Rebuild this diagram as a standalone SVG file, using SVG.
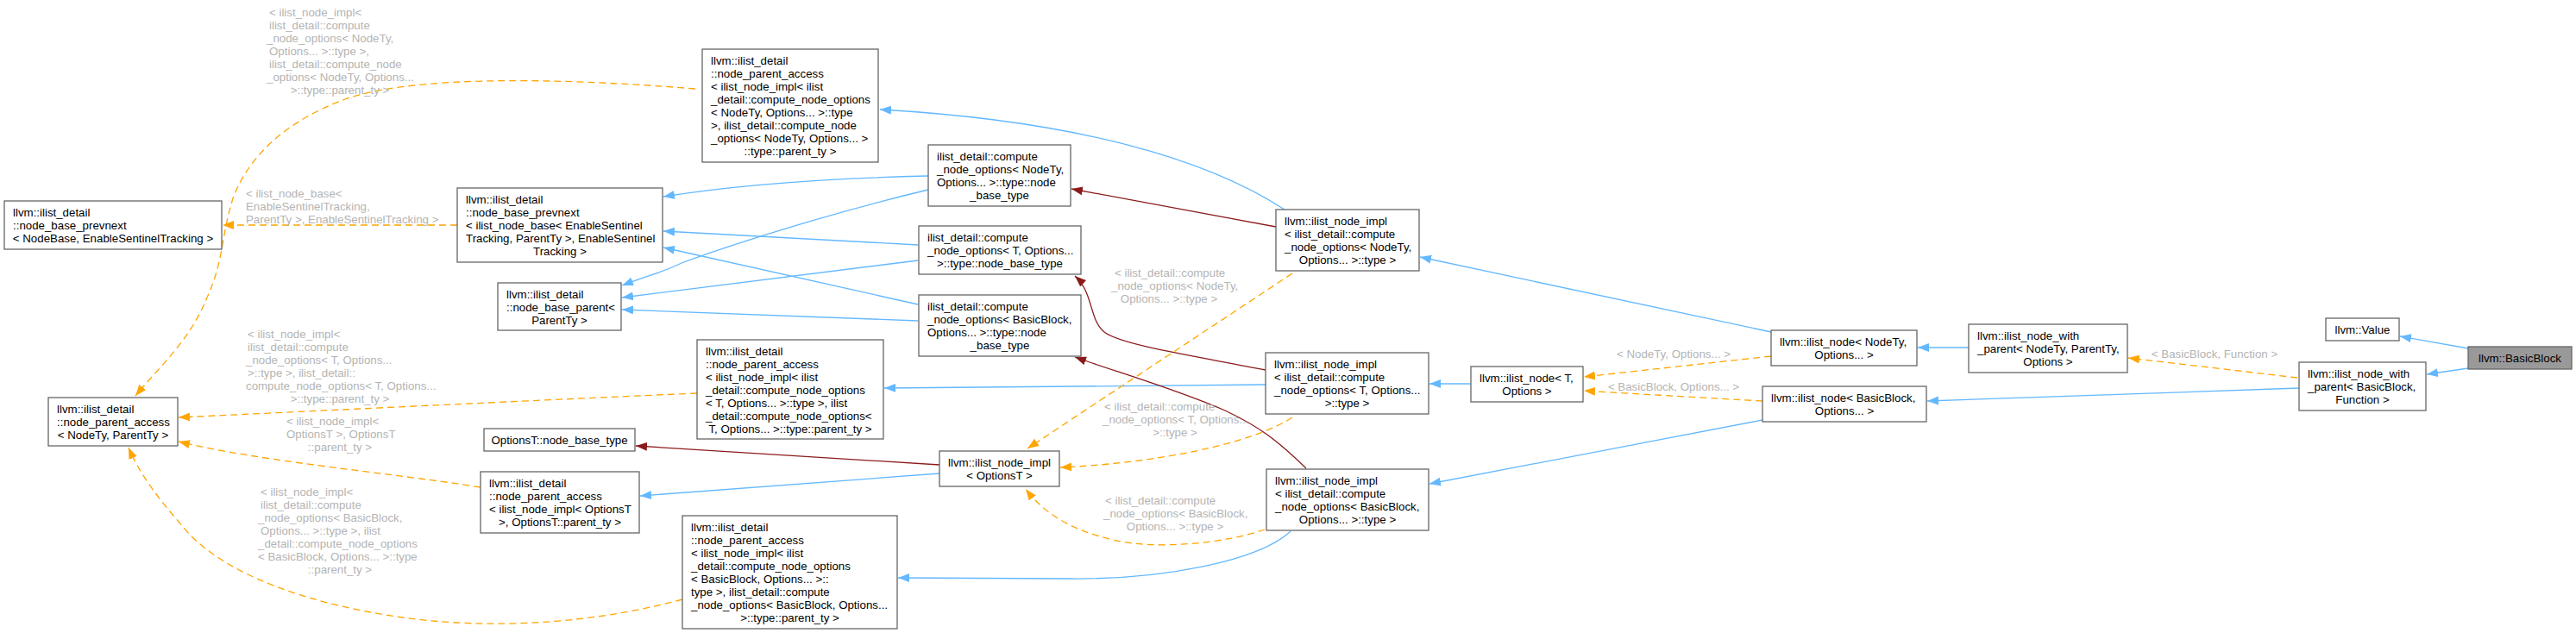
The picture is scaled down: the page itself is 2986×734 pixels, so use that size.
<svg xmlns="http://www.w3.org/2000/svg" width="2986" height="734" viewBox="0 0 2986 734">
<style>
.n rect{fill:#fff;stroke:#666;stroke-width:1.3}
.n text,.l text{font-family:"Liberation Sans",Arial,sans-serif;font-size:13.3px}
.n text{fill:#000}
.l text{fill:#b4b4b4}
.m{text-anchor:middle}
.e path{fill:none;stroke-width:1.3}
.b{stroke:#63b8ff}
.r{stroke:#8b1a1a}
.o{stroke:#ffa500;stroke-dasharray:8,5}
</style>
<defs>
<marker id="ab" markerUnits="userSpaceOnUse" markerWidth="14" markerHeight="11" refX="13" refY="5" orient="auto"><path d="M0,0L13,5L0,10z" fill="#63b8ff"/></marker>
<marker id="ar" markerUnits="userSpaceOnUse" markerWidth="14" markerHeight="11" refX="13" refY="5" orient="auto"><path d="M0,0L13,5L0,10z" fill="#8b1a1a"/></marker>
<marker id="ao" markerUnits="userSpaceOnUse" markerWidth="14" markerHeight="11" refX="13" refY="5" orient="auto"><path d="M0,0L13,5L0,10z" fill="#ffa500"/></marker>
</defs>
<rect width="2986" height="734" fill="#fff"/>
<g id="edges" class="e">
<path class="b" d="M2861,404L2782,390" marker-end="url(#ab)"/>
<path class="b" d="M2861,427L2813,434" marker-end="url(#ab)"/>
<path class="o" d="M2663,438L2467,415" marker-end="url(#ao)"/>
<path class="b" d="M2665,450L2234,465" marker-end="url(#ab)"/>
<path class="b" d="M2282,403L2223,403" marker-end="url(#ab)"/>
<path class="o" d="M2053,413L1836,437" marker-end="url(#ao)"/>
<path class="o" d="M2043,465C1990,462 1900,457 1836,453" marker-end="url(#ao)"/>
<path class="b" d="M2053,385L1646,298" marker-end="url(#ab)"/>
<path class="b" d="M1705,445L1657,445" marker-end="url(#ab)"/>
<path class="b" d="M2043,487L1657,561" marker-end="url(#ab)"/>
<path class="b" d="M1489,243C1400,185 1250,140 1020,127" marker-end="url(#ab)"/>
<path class="r" d="M1479,263L1242,219" marker-end="url(#ar)"/>
<path class="b" d="M1467,446L1025,450" marker-end="url(#ab)"/>
<path class="r" d="M1467,429C1380,412 1300,400 1280,385C1262,370 1268,340 1246,320" marker-end="url(#ar)"/>
<path class="r" d="M1514,543C1480,510 1460,495 1420,476C1360,450 1290,430 1246,414" marker-end="url(#ar)"/>
<path class="b" d="M1496,616C1460,650 1350,672 1240,671L1041,670" marker-end="url(#ab)"/>
<path class="o" d="M1498,317L1191,520" marker-end="url(#ao)"/>
<path class="o" d="M1498,484C1450,515 1340,537 1229,542" marker-end="url(#ao)"/>
<path class="o" d="M1466,614C1420,630 1340,638 1290,626C1240,614 1210,595 1189,567" marker-end="url(#ao)"/>
<path class="r" d="M1089,539L737,517" marker-end="url(#ar)"/>
<path class="b" d="M1089,549L742,575" marker-end="url(#ab)"/>
<path class="b" d="M1076,204C950,207 850,215 769,228" marker-end="url(#ab)"/>
<path class="b" d="M1076,220C950,250 830,290 790,305C770,315 750,320 721,331" marker-end="url(#ab)"/>
<path class="b" d="M1064,284L769,268" marker-end="url(#ab)"/>
<path class="b" d="M1064,302L721,345" marker-end="url(#ab)"/>
<path class="b" d="M1064,353L769,287" marker-end="url(#ab)"/>
<path class="b" d="M1064,372L721,359" marker-end="url(#ab)"/>
<path class="o" d="M530,261L258,261" marker-end="url(#ao)"/>
<path class="o" d="M806,103C730,97 500,80 400,115C320,145 285,190 270,230C255,280 260,300 240,345C220,395 185,425 157,459" marker-end="url(#ao)"/>
<path class="o" d="M808,456C600,465 400,475 207,484" marker-end="url(#ao)"/>
<path class="o" d="M557,565C450,548 300,535 207,512" marker-end="url(#ao)"/>
<path class="o" d="M791,695C680,725 560,730 460,715C360,700 270,670 220,620C185,580 163,552 149,519" marker-end="url(#ao)"/>
</g>
<g id="labels" class="l">
<text x="312" y="19">&lt; ilist_node_impl&lt;</text>
<text x="312" y="34">ilist_detail::compute</text>
<text x="309" y="49">_node_options&lt; NodeTy,</text>
<text x="312" y="64">Options... &gt;::type &gt;,</text>
<text x="312" y="79">ilist_detail::compute_node</text>
<text x="309" y="94">_options&lt; NodeTy, Options...</text>
<text x="394" y="109" class="m">&gt;::type::parent_ty &gt;</text>
<text x="285" y="229">&lt; ilist_node_base&lt;</text>
<text x="285" y="244">EnableSentinelTracking,</text>
<text x="285" y="259">ParentTy &gt;, EnableSentinelTracking &gt;</text>
<text x="287" y="392">&lt; ilist_node_impl&lt;</text>
<text x="287" y="407">ilist_detail::compute</text>
<text x="285" y="422">_node_options&lt; T, Options...</text>
<text x="287" y="437">&gt;::type &gt;, ilist_detail::</text>
<text x="285" y="452">compute_node_options&lt; T, Options...</text>
<text x="394" y="467" class="m">&gt;::type::parent_ty &gt;</text>
<text x="332" y="493">&lt; ilist_node_impl&lt;</text>
<text x="332" y="508">OptionsT &gt;, OptionsT</text>
<text x="394" y="523" class="m">::parent_ty &gt;</text>
<text x="302" y="575">&lt; ilist_node_impl&lt;</text>
<text x="302" y="590">ilist_detail::compute</text>
<text x="299" y="605">_node_options&lt; BasicBlock,</text>
<text x="302" y="620">Options... &gt;::type &gt;, ilist</text>
<text x="299" y="635">_detail::compute_node_options</text>
<text x="299" y="650">&lt; BasicBlock, Options... &gt;::type</text>
<text x="394" y="665" class="m">::parent_ty &gt;</text>
<text x="1292" y="321">&lt; ilist_detail::compute</text>
<text x="1288" y="336">_node_options&lt; NodeTy,</text>
<text x="1355" y="351" class="m">Options... &gt;::type &gt;</text>
<text x="1280" y="476">&lt; ilist_detail::compute</text>
<text x="1278" y="491">_node_options&lt; T, Options...</text>
<text x="1362" y="506" class="m">&gt;::type &gt;</text>
<text x="1281" y="585">&lt; ilist_detail::compute</text>
<text x="1279" y="600">_node_options&lt; BasicBlock,</text>
<text x="1362" y="615" class="m">Options... &gt;::type &gt;</text>
<text x="1940" y="415" class="m">&lt; NodeTy, Options... &gt;</text>
<text x="1940" y="453" class="m">&lt; BasicBlock, Options... &gt;</text>
<text x="2567" y="415" class="m">&lt; BasicBlock, Function &gt;</text>
</g>
<g id="n1" class="n"><rect x="2861" y="402" width="120" height="26" style="fill:#999"/><text x="2921" y="420" class="m">llvm::BasicBlock</text></g>
<g id="n2" class="n"><rect x="2696" y="369" width="85" height="26"/><text x="2738.5" y="387" class="m">llvm::Value</text></g>
<g id="n3" class="n"><rect x="2665" y="420" width="147" height="56"/><text x="2675" y="438">llvm::ilist_node_with</text><text x="2675" y="453">_parent&lt; BasicBlock,</text><text x="2738.5" y="468" class="m">Function &gt;</text></g>
<g id="n4" class="n"><rect x="2282" y="376" width="184" height="56"/><text x="2292" y="394">llvm::ilist_node_with</text><text x="2292" y="409">_parent&lt; NodeTy, ParentTy,</text><text x="2374" y="424" class="m">Options &gt;</text></g>
<g id="n5" class="n"><rect x="2053" y="383" width="169" height="41"/><text x="2063" y="401">llvm::ilist_node&lt; NodeTy,</text><text x="2137.5" y="416" class="m">Options... &gt;</text></g>
<g id="n6" class="n"><rect x="2043" y="448" width="190" height="41"/><text x="2053" y="466">llvm::ilist_node&lt; BasicBlock,</text><text x="2138" y="481" class="m">Options... &gt;</text></g>
<g id="n7" class="n"><rect x="1705" y="425" width="130" height="41"/><text x="1715" y="443">llvm::ilist_node&lt; T,</text><text x="1770" y="458" class="m">Options &gt;</text></g>
<g id="n8" class="n"><rect x="1479" y="243" width="166" height="71"/><text x="1489" y="261">llvm::ilist_node_impl</text><text x="1489" y="276">&lt; ilist_detail::compute</text><text x="1489" y="291">_node_options&lt; NodeTy,</text><text x="1562" y="306" class="m">Options... &gt;::type &gt;</text></g>
<g id="n9" class="n"><rect x="1467" y="409" width="189" height="71"/><text x="1477" y="427">llvm::ilist_node_impl</text><text x="1477" y="442">&lt; ilist_detail::compute</text><text x="1477" y="457">_node_options&lt; T, Options...</text><text x="1561.5" y="472" class="m">&gt;::type &gt;</text></g>
<g id="n10" class="n"><rect x="1468" y="544" width="188" height="71"/><text x="1478" y="562">llvm::ilist_node_impl</text><text x="1478" y="577">&lt; ilist_detail::compute</text><text x="1478" y="592">_node_options&lt; BasicBlock,</text><text x="1562" y="607" class="m">Options... &gt;::type &gt;</text></g>
<g id="n11" class="n"><rect x="1076" y="168" width="165" height="71"/><text x="1086" y="186">ilist_detail::compute</text><text x="1086" y="201">_node_options&lt; NodeTy,</text><text x="1086" y="216">Options... &gt;::type::node</text><text x="1158.5" y="231" class="m">_base_type</text></g>
<g id="n12" class="n"><rect x="1065" y="262" width="188" height="56"/><text x="1075" y="280">ilist_detail::compute</text><text x="1075" y="295">_node_options&lt; T, Options...</text><text x="1159" y="310" class="m">&gt;::type::node_base_type</text></g>
<g id="n13" class="n"><rect x="1065" y="342" width="188" height="71"/><text x="1075" y="360">ilist_detail::compute</text><text x="1075" y="375">_node_options&lt; BasicBlock,</text><text x="1075" y="390">Options... &gt;::type::node</text><text x="1159" y="405" class="m">_base_type</text></g>
<g id="n14" class="n"><rect x="1089" y="523" width="139" height="41"/><text x="1099" y="541">llvm::ilist_node_impl</text><text x="1158.5" y="556" class="m">&lt; OptionsT &gt;</text></g>
<g id="n15" class="n"><rect x="814" y="57" width="204" height="131"/><text x="824" y="75">llvm::ilist_detail</text><text x="824" y="90">::node_parent_access</text><text x="824" y="105">&lt; ilist_node_impl&lt; ilist</text><text x="824" y="120">_detail::compute_node_options</text><text x="824" y="135">&lt; NodeTy, Options... &gt;::type</text><text x="824" y="150">&gt;, ilist_detail::compute_node</text><text x="824" y="165">_options&lt; NodeTy, Options... &gt;</text><text x="916" y="180" class="m">::type::parent_ty &gt;</text></g>
<g id="n16" class="n"><rect x="808" y="394" width="216" height="115"/><text x="818" y="412">llvm::ilist_detail</text><text x="818" y="427">::node_parent_access</text><text x="818" y="442">&lt; ilist_node_impl&lt; ilist</text><text x="818" y="457">_detail::compute_node_options</text><text x="818" y="472">&lt; T, Options... &gt;::type &gt;, ilist</text><text x="818" y="487">_detail::compute_node_options&lt;</text><text x="916" y="502" class="m">T, Options... &gt;::type::parent_ty &gt;</text></g>
<g id="n17" class="n"><rect x="791" y="598" width="249" height="131"/><text x="801" y="616">llvm::ilist_detail</text><text x="801" y="631">::node_parent_access</text><text x="801" y="646">&lt; ilist_node_impl&lt; ilist</text><text x="801" y="661">_detail::compute_node_options</text><text x="801" y="676">&lt; BasicBlock, Options... &gt;::</text><text x="801" y="691">type &gt;, ilist_detail::compute</text><text x="801" y="706">_node_options&lt; BasicBlock, Options...</text><text x="915.5" y="721" class="m">&gt;::type::parent_ty &gt;</text></g>
<g id="n18" class="n"><rect x="561" y="497" width="175" height="26"/><text x="648.5" y="515" class="m">OptionsT::node_base_type</text></g>
<g id="n19" class="n"><rect x="557" y="547" width="184" height="71"/><text x="567" y="565">llvm::ilist_detail</text><text x="567" y="580">::node_parent_access</text><text x="567" y="595">&lt; ilist_node_impl&lt; OptionsT</text><text x="649" y="610" class="m">&gt;, OptionsT::parent_ty &gt;</text></g>
<g id="n20" class="n"><rect x="530" y="218" width="238" height="86"/><text x="540" y="236">llvm::ilist_detail</text><text x="540" y="251">::node_base_prevnext</text><text x="540" y="266">&lt; ilist_node_base&lt; EnableSentinel</text><text x="540" y="281">Tracking, ParentTy &gt;, EnableSentinel</text><text x="649" y="296" class="m">Tracking &gt;</text></g>
<g id="n21" class="n"><rect x="577" y="328" width="143" height="55"/><text x="587" y="346">llvm::ilist_detail</text><text x="587" y="361">::node_base_parent&lt;</text><text x="648.5" y="376" class="m">ParentTy &gt;</text></g>
<g id="n22" class="n"><rect x="5" y="233" width="252" height="56"/><text x="15" y="251">llvm::ilist_detail</text><text x="15" y="266">::node_base_prevnext</text><text x="131" y="281" class="m">&lt; NodeBase, EnableSentinelTracking &gt;</text></g>
<g id="n23" class="n"><rect x="56" y="461" width="150" height="56"/><text x="66" y="479">llvm::ilist_detail</text><text x="66" y="494">::node_parent_access</text><text x="131" y="509" class="m">&lt; NodeTy, ParentTy &gt;</text></g>
</svg>
